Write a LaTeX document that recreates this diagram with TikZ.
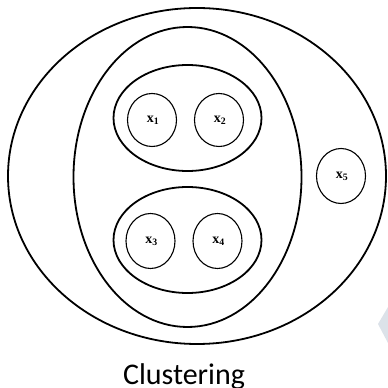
\documentclass[tikz,border=0pt]{standalone}
\usepackage{fontspec}
\setmainfont{Liberation Serif}
\newfontfamily\labelfont{Carlito}
\definecolor{wmark}{RGB}{220,226,233}
\begin{document}
\begin{tikzpicture}[x=1pt,y=1pt,
  bigring/.style={draw=black,line width=1.8pt},
  item/.style={draw=black,line width=1.1pt},
  lbl/.style={font=\bfseries\fontsize{14}{14}\selectfont}]
\useasboundingbox (0,0) rectangle (388,388);
% watermark fragment
\fill[wmark] (388,81) -- (378,64) -- (388,45) -- cycle;
% outer cluster
\draw[bigring] (197,212) ellipse [x radius=189, y radius=168];
% middle cluster
\draw[bigring] (187.5,211) ellipse [x radius=114, y radius=150];
% inner clusters
\draw[bigring] (187.5,270) ellipse [x radius=74, y radius=53];
\draw[bigring] (187.5,148) ellipse [x radius=74, y radius=53];
% items
\draw[item] (152,268) ellipse [x radius=24.5, y radius=26.5];
\draw[item] (219,268) ellipse [x radius=24.5, y radius=26.5];
\draw[item] (150.5,147) ellipse [x radius=24.5, y radius=27.5];
\draw[item] (217.5,147) ellipse [x radius=24.5, y radius=27.5];
\draw[item] (341,212) ellipse [x radius=24.5, y radius=27.5];
\node[lbl] (x1) at (153,268) {x\textsubscript{1}};
\node[lbl] (x2) at (220,268) {x\textsubscript{2}};
\node[lbl] (x3) at (151.5,147) {x\textsubscript{3}};
\node[lbl] (x4) at (218.5,147) {x\textsubscript{4}};
\node[lbl] (x5) at (342,212) {x\textsubscript{5}};
\node[font=\labelfont\fontsize{30}{30}\selectfont,anchor=base,inner sep=0pt] (cap) at (184,3) {Clustering};
\end{tikzpicture}
\end{document}
